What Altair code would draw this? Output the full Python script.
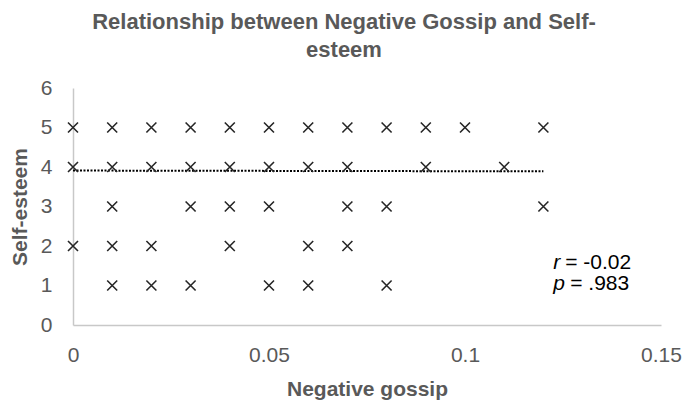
import altair as alt
import pandas as pd

# Scatter points: (negative gossip, self-esteem)
gossip = [0, 0.01, 0.02, 0.03, 0.04, 0.05, 0.06, 0.07, 0.08, 0.09, 0.10, 0.12,
          0, 0.01, 0.02, 0.03, 0.04, 0.05, 0.06, 0.07, 0.09, 0.11,
          0.01, 0.03, 0.04, 0.05, 0.07, 0.08, 0.12,
          0, 0.01, 0.02, 0.04, 0.06, 0.07,
          0.01, 0.02, 0.03, 0.05, 0.06, 0.08]
esteem = [5] * 12 + [4] * 10 + [3] * 7 + [2] * 6 + [1] * 6

trend_x = [0, 0.12]
trend_y = [3.91, 3.89]

stat_sym = ["r", "p"]
stat_val = ["= -0.02", "= .983"]
stat_x = [0.1225, 0.1225]
stat_y = [1.58, 1.05]

x_ticks = [0, 0.05, 0.1, 0.15]
y_ticks = [0, 1, 2, 3, 4, 5, 6]

pts = pd.DataFrame({"x": gossip, "y": esteem})
trend = pd.DataFrame({"x": trend_x, "y": trend_y})
stats = pd.DataFrame({"sym": stat_sym, "val": stat_val, "x": stat_x, "y": stat_y})

FONT = "Liberation Sans"
GRAY = "#595959"

xs = alt.Scale(domain=[0, 0.15], nice=False, zero=True)
ys = alt.Scale(domain=[0, 6], nice=False)

xaxis = alt.Axis(title="Negative gossip", values=x_ticks, format=".2~f",
                 labelPadding=19, titlePadding=13)
yaxis = alt.Axis(title="Self-esteem", values=y_ticks,
                 labelPadding=21, titlePadding=10)

xenc = alt.X("x:Q", scale=xs, axis=xaxis)
yenc = alt.Y("y:Q", scale=ys, axis=yaxis)

points = alt.Chart(pts).mark_point(
    shape="M-1,-1L1,1M-1,1L1,-1", filled=False, stroke="#262626", strokeWidth=1.6,
    size=100, opacity=1
).encode(x=xenc, y=yenc)

line = alt.Chart(trend).mark_line(
    color="#000000", strokeDash=[2, 1.5], strokeWidth=2
).encode(x=xenc, y=yenc)

sym = alt.Chart(stats).mark_text(
    align="left", baseline="middle", font=FONT, fontSize=21, fontStyle="italic", color="#000000"
).encode(x=xenc, y=yenc, text="sym:N")

val_r = alt.Chart(stats).transform_filter(alt.datum.sym == "r").mark_text(
    align="left", baseline="middle", font=FONT, fontSize=21, color="#000000", dx=12
).encode(x=xenc, y=yenc, text="val:N")

val_p = alt.Chart(stats).transform_filter(alt.datum.sym == "p").mark_text(
    align="left", baseline="middle", font=FONT, fontSize=21, color="#000000", dx=17
).encode(x=xenc, y=yenc, text="val:N")

chart = alt.layer(line, points, sym, val_r, val_p).properties(
    width=588, height=237,
    padding={"left": 65, "top": 80, "right": 21, "bottom": 76},
    autosize=alt.AutoSizeParams(type="none"),
    title=alt.Title(
        ["Relationship between Negative Gossip and Self-", "esteem"],
        font=FONT, fontSize=22, fontWeight="bold", color=GRAY,
        anchor="middle", dx=-23, offset=15, lineHeight=28)
).configure_view(stroke=None).configure_axis(
    grid=False, ticks=False, domainColor="#c8c8c8", domainWidth=1.5,
    labelFont=FONT, labelFontSize=21, labelColor=GRAY, labelFlush=False, labelOverlap=False,
    titleFont=FONT, titleFontSize=21, titleColor=GRAY, titleFontWeight="bold"
)

chart.save("out.html", embed_options={"renderer": "svg", "actions": False})
